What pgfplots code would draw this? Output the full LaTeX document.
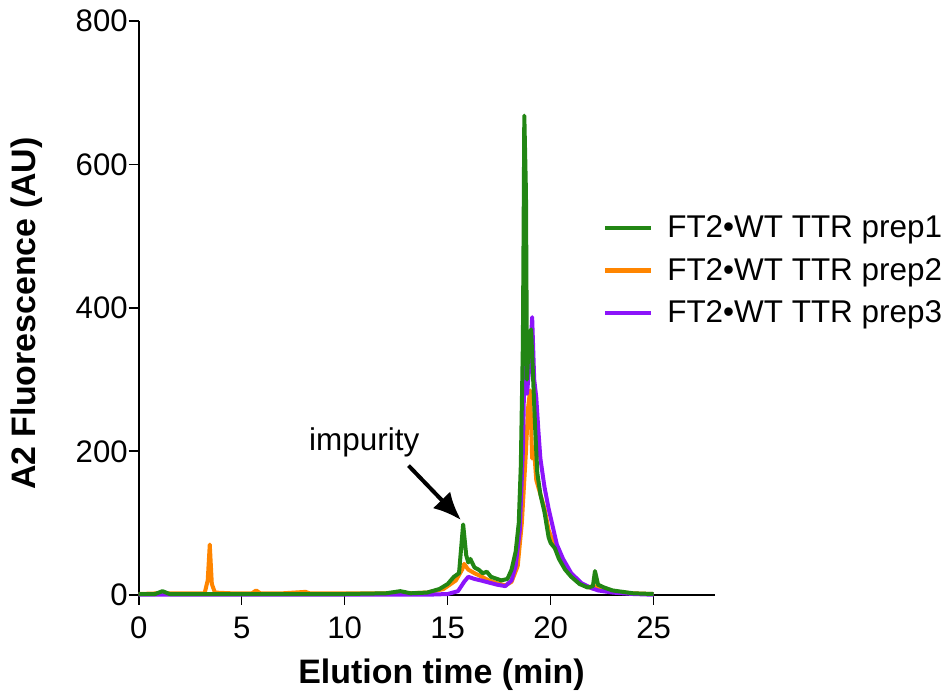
\documentclass[border=0pt]{standalone}
\usepackage{fontspec}
\setmainfont{Liberation Sans}
\usepackage{pgfplots}
\pgfplotsset{compat=1.18}
\usetikzlibrary{arrows.meta}

\definecolor{prepgreen}{RGB}{34,134,20}
\definecolor{preporange}{RGB}{255,133,0}
\definecolor{preppurple}{RGB}{140,20,250}

\pgfplotstableread{
t     f
0     1
0.8   1
1.15  5
1.5   1
3     1
4     1
6     1
8     1
10    1
12    2
12.7  5
13.2  2
14    3
14.6  8
15.0  15
15.3  25
15.55 30
15.75 98
15.9  55
16.0  45
16.1  50
16.3  38
16.5  35
16.7  30
16.9  32
17.1  25
17.3  23
17.6  20
17.9  22
18.1  35
18.3  60
18.45 100
18.55 180
18.65 350
18.72 668
18.8  560
18.85 300
18.95 360
19.05 370
19.15 300
19.25 230
19.35 170
19.5  140
19.7  115
19.9  80
20.0  72
20.2  65
20.4  50
20.7  35
21.0  25
21.4  15
21.8  10
22.05 12
22.15 33
22.3  14
22.6  10
23    6
23.5  4
24    2
25    1
}\prepone

\pgfplotstableread{
t     f
0     1
1     2
2     2
3.2   2
3.35  20
3.45  70
3.55  15
3.7   3
4.5   2
5.5   2
5.7   6
5.9   2
7     2
8.1   4
8.3   2
10    2
12    2
13    2
14    3
14.8  8
15.4  20
15.7  35
15.8  43
16.0  35
16.3  30
16.6  26
17.0  20
17.4  16
17.8  13
18.1  18
18.4  40
18.6  100
18.8  200
18.9  260
19.0  285
19.1  190
19.2  200
19.3  160
19.5  140
19.7  120
19.9  90
20.1  75
20.3  60
20.6  45
21    28
21.5  15
22    9
22.2  12
22.4  7
23    4
24    2
25    1
}\preptwo

\pgfplotstableread{
t     f
0     0
14    0
15    1
15.5  5
15.8  18
16.0  25
16.3  22
16.6  20
17.0  17
17.4  14
17.8  12
18.1  20
18.3  40
18.5  90
18.65 200
18.75 360
18.85 280
19.0  330
19.1  387
19.2  300
19.3  275
19.4  230
19.5  190
19.7  150
19.9  120
20.1  95
20.3  70
20.6  50
21.0  30
21.5  16
22    9
22.3  6
23    3
24    1
25    0
}\prepthree

\begin{document}
\begin{tikzpicture}
\begin{axis}[
    scale only axis,
    width=289pt, height=287.5pt,
    xmin=0, xmax=28, ymin=0, ymax=800,
    axis x line=bottom, axis y line=left,
    axis line style={-, line width=0.8pt},
    xtick={0,5,...,25}, ytick={0,200,...,800},
    tick align=outside, major tick length=5pt,
    tick style={line width=0.8pt, black},
    ticklabel style={font=\fontsize{15.6}{17}\selectfont},
    yticklabel style={xshift=3pt},
    xticklabel style={yshift=-2.5pt},
    /pgf/number format/assume math mode=true,
    xlabel={\bfseries Elution time (min)},
    ylabel={\bfseries A2 Fluorescence (AU)},
    label style={font=\fontsize{17}{19}\selectfont},
    xlabel style={at={(axis description cs:0.525,-0.099)}, anchor=north},
    ylabel style={at={(axis description cs:-0.154,0.49)}, anchor=south},
    clip=false,
    legend style={draw=none, fill=none, at={(0.794,0.675)}, anchor=north west,
        font=\fontsize{15.75}{17}\selectfont, row sep=4.75pt,
        /tikz/every odd column/.append style={column sep=5pt}},
    legend cell align=left,
    legend image code/.code={\draw[#1, line width=2.2pt] (0pt,0pt) -- (23pt,0pt);},
    every axis plot/.append style={line width=2pt, line join=round},
]
\addlegendimage{prepgreen}
\addlegendentry{FT2•WT TTR prep1}
\addlegendimage{preporange}
\addlegendentry{FT2•WT TTR prep2}
\addlegendimage{preppurple}
\addlegendentry{FT2•WT TTR prep3}

\addplot[preporange, forget plot] table[x=t, y=f] {\preptwo};
\addplot[preppurple, forget plot] table[x=t, y=f] {\prepthree};
\addplot[prepgreen, forget plot] table[x=t, y=f] {\prepone};

\node[font=\fontsize{15.75}{17}\selectfont] at (axis cs:10.95,213) {impurity};
\draw[-{Latex[length=14pt, width=12pt]}, line width=2pt] (axis cs:13.1,180) -- (axis cs:15.65,104);
\end{axis}
\path (current axis.south west) ++(-69.5pt,-48.5pt) rectangle ++(476pt,346.5pt);
\end{tikzpicture}
\end{document}
